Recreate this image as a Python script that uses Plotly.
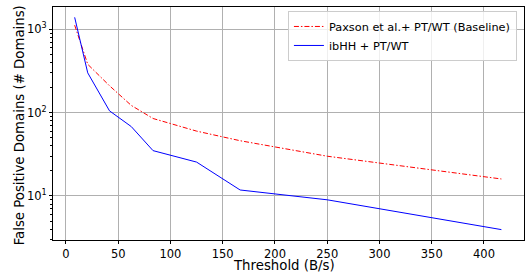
import plotly.graph_objects as go

thresholds = [8.33, 20.83, 41.67, 62.5, 83.33, 125, 166.67, 250, 416.67]
baseline_fp = [1120, 380, 210, 122, 85, 60, 46, 30, 16]
ibhh_fp = [1390, 300, 105, 68, 35, 25.5, 11.8, 9.0, 3.95]

series_names = ["Paxson et al.+ PT/WT (Baseline)", "ibHH + PT/WT"]
x_title = "Threshold (B/s)"
y_title = "False Positive Domains (# Domains)"
x_ticks = [0, 50, 100, 150, 200, 250, 300, 350, 400]
y_ticks = [10, 100, 1000]
y_tick_labels = ["10<sup>1</sup>", "10<sup>2</sup>", "10<sup>3</sup>"]
y_minor = [3, 4, 5, 6, 7, 8, 9, 20, 30, 40, 50, 60, 70, 80, 90,
           200, 300, 400, 500, 600, 700, 800, 900]

font = "DejaVu Sans"

fig = go.Figure()
fig.add_trace(go.Scatter(x=thresholds, y=baseline_fp, mode="lines", name=series_names[0],
                         line=dict(color="red", width=1, dash="5px,2px,1.5px,2px")))
fig.add_trace(go.Scatter(x=thresholds, y=ibhh_fp, mode="lines", name=series_names[1],
                         line=dict(color="blue", width=1)))

fig.update_layout(
    width=531, height=274,
    margin=dict(l=53, r=7, t=7, b=34),
    plot_bgcolor="white", paper_bgcolor="white",
    font=dict(family=font, color="black", size=11.5),
    showlegend=True,
    legend=dict(x=0.985, y=0.983, xanchor="right", yanchor="top",
                bgcolor="rgba(255,255,255,0.8)", bordercolor="#cccccc", borderwidth=1,
                font=dict(size=11.3, family=font), tracegroupgap=0, itemwidth=30),
    annotations=[
        dict(text=x_title, xref="paper", yref="paper", x=0.49, y=-0.108,
             xanchor="center", yanchor="middle", showarrow=False,
             font=dict(size=13.3, family=font, color="black")),
        dict(text=y_title, xref="paper", yref="paper", x=-0.0711, y=0.49,
             xanchor="center", yanchor="middle", showarrow=False, textangle=-90,
             font=dict(size=13.3, family=font, color="black")),
    ],
)
fig.update_xaxes(
    range=[-12.4, 438.3], tickvals=x_ticks, automargin=False,
    showgrid=True, gridcolor="#b0b0b0", gridwidth=1,
    showline=True, linecolor="black", linewidth=1, mirror=True,
    ticks="outside", ticklen=3, tickcolor="black",
    zeroline=False,
    tickfont=dict(size=11.5, family=font),
)
fig.update_yaxes(
    type="log", range=[0.472, 3.267], automargin=False,
    tickvals=y_ticks, ticktext=y_tick_labels,
    showgrid=True, gridcolor="#b0b0b0", gridwidth=1,
    showline=True, linecolor="black", linewidth=1, mirror=True,
    ticks="outside", ticklen=3, tickcolor="black",
    minor=dict(tickvals=y_minor, ticks="outside", ticklen=2, tickcolor="black", showgrid=False),
    zeroline=False,
    tickfont=dict(size=11.5, family=font),
)

fig.write_html("out.html", config={"displayModeBar": False},
               post_script="document.body.style.margin='0';document.body.style.overflow='hidden';")
